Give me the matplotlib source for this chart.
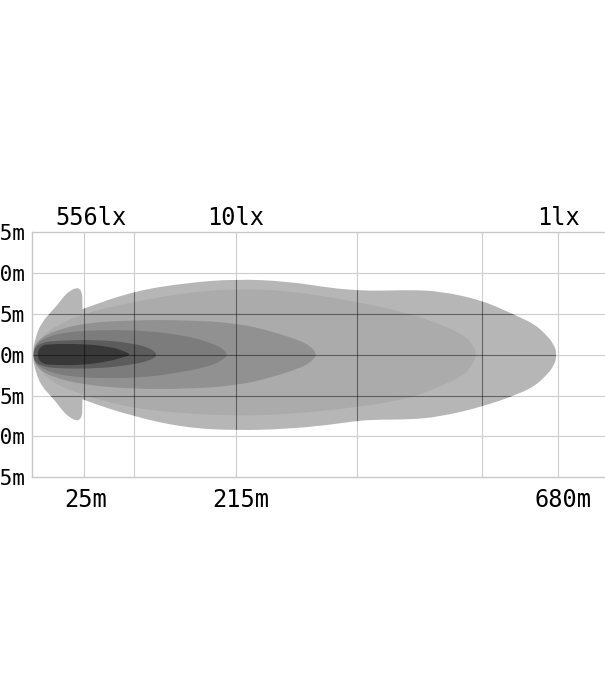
import matplotlib
matplotlib.use("Agg")
import matplotlib.pyplot as plt
from matplotlib.path import Path
from matplotlib.patches import PathPatch

# axis / grid layout (x in chart units, y in metres)
grid_x = [5.2, 10.2, 20.4, 32.5, 45.0, 52.6]
grid_y = [-10, -5, 0, 5, 10]
y_ticks = [-15, -10, -5, 0, 5, 10, 15]
y_labels = ["15m", "10m", "5m", "0m", "5m", "10m", "15m"]
dist_pos = [5.4, 20.9, 53.1]
dist_labels = ["25m", "215m", "680m"]
lux_pos = [5.9, 20.4, 52.6]
lux_labels = ["556lx", "10lx", "1lx"]

# outer beam (1 lx)
body_x = [0.1, 0.8, 2.3, 5.2, 10.2, 15.3, 20.4, 25.6, 29.8, 32.5, 34.8, 37.8, 40.8, 45.0, 48.8, 50.3, 51.3, 52.2, 52.5]
body_hi = [0, 2.4, 4.3, 5.7, 7.8, 8.8, 9.3, 9.0, 8.2, 7.9, 7.85, 7.95, 7.8, 6.7, 4.6, 3.7, 2.6, 1.3, 0]
body_lo = [0, -2.4, -4.1, -5.6, -7.6, -8.95, -9.3, -9.1, -8.6, -8.1, -7.95, -7.95, -7.6, -6.4, -4.75, -3.8, -2.7, -1.4, 0]

# near-field wing
wing_x = [0, 0.4, 1.0, 1.9, 2.6, 3.2, 3.8, 4.4, 4.8, 5.0, 5.05]
wing_hi = [0, 2.4, 4.0, 5.25, 6.2, 7.2, 7.85, 8.2, 8.1, 7.5, 6.8]
wing_lo = [0, -2.3, -3.9, -5.1, -6.1, -7.1, -7.7, -8.1, -7.95, -7.4, -6.7]

# inner isolux zones
l2_x = [0.1, 0.8, 2.3, 5.2, 10.2, 15.3, 20.4, 25.8, 32.5, 37.7, 41.1, 43.0, 43.9, 44.55]
l2_hi = [0, 2.0, 3.5, 5.1, 6.5, 7.6, 8.1, 7.85, 6.5, 5.1, 3.6, 2.5, 1.6, 0]
l2_lo = [0, -2.0, -3.6, -5.0, -6.6, -7.2, -7.5, -7.3, -6.45, -5.4, -3.75, -2.65, -1.5, 0]

l3_x = [0.1, 0.4, 1.9, 5.2, 10.1, 15.3, 20.4, 23.9, 26.65, 27.8, 28.55]
l3_hi = [0, 1.6, 2.8, 3.9, 4.25, 4.25, 3.9, 2.9, 1.8, 1.1, 0]
l3_lo = [0, -1.5, -2.7, -3.7, -4.2, -4.2, -3.8, -2.8, -1.7, -1.0, 0]

l4_x = [0.1, 0.4, 3.2, 10.1, 15.3, 18.0, 19.0, 19.6]
l4_hi = [0, 1.6, 2.9, 3.1, 2.4, 1.4, 0.8, 0]
l4_lo = [0, -1.4, -2.75, -2.95, -2.1, -1.3, -0.7, 0]

l5_x = [0.1, 0.3, 1.0, 2.55, 6.7, 10.1, 11.85, 12.6]
l5_hi = [0, 0.9, 1.5, 1.75, 1.85, 1.4, 0.8, 0]
l5_lo = [0, -0.9, -1.4, -1.7, -1.7, -1.2, -0.7, 0]

l6_x = [0.55, 0.65, 1.0, 1.5, 4.96, 7.7, 9.0, 9.95]
l6_hi = [0, 0.6, 1.1, 1.3, 1.35, 1.0, 0.55, 0]
l6_lo = [0, -0.6, -1.0, -1.25, -1.3, -0.8, -0.35, 0]


def outline(x, hi, lo):
    # closed smooth outline: the read points act as quadratic control points
    pts = list(zip(x, hi))
    low = list(zip(x, lo))[::-1]
    if low[0] == pts[-1]:
        low = low[1:]
    if low[-1] == pts[0]:
        low = low[:-1]
    pts = pts + low
    n = len(pts)
    mid = lambda a, b: ((a[0] + b[0]) / 2, (a[1] + b[1]) / 2)
    verts = [mid(pts[-1], pts[0])]
    codes = [Path.MOVETO]
    for i in range(n):
        verts += [pts[i], mid(pts[i], pts[(i + 1) % n])]
        codes += [Path.CURVE3, Path.CURVE3]
    verts.append(verts[0])
    codes.append(Path.CLOSEPOLY)
    return Path(verts, codes)


def zone(ax, x, hi, lo, color, z):
    patch = PathPatch(outline(x, hi, lo), facecolor=color, edgecolor="none", zorder=z)
    ax.add_patch(patch)
    return patch


fig = plt.figure(figsize=(6.05, 7.0), dpi=100)
ax = fig.add_axes([32 / 605, 223 / 700, 600 / 605, 244.5 / 700])
ax.set_xlim(0, 60)
ax.set_ylim(-15, 15)

mono = ["DejaVu Sans Mono"]

# light grid on white paper
for gx in grid_x:
    ax.axvline(gx, color="#cccccc", lw=0.8, zorder=0.5)
for gy in grid_y:
    ax.axhline(gy, color="#cccccc", lw=0.8, zorder=0.5)

body = zone(ax, body_x, body_hi, body_lo, "#b6b6b6", 1)
wing = zone(ax, wing_x, wing_hi, wing_lo, "#b6b6b6", 1)
zone(ax, l2_x, l2_hi, l2_lo, "#ababab", 1.1)
zone(ax, l3_x, l3_hi, l3_lo, "#919191", 1.2)
zone(ax, l4_x, l4_hi, l4_lo, "#7c7c7c", 1.3)
zone(ax, l5_x, l5_hi, l5_lo, "#5c5c5c", 1.4)
zone(ax, l6_x, l6_hi, l6_lo, "#383838", 1.5)

# grid seen through the beam: darker lines clipped to the shapes
for gx in grid_x:
    ln, = ax.plot([gx, gx], [-15, 15], color="black", alpha=0.45, lw=0.8, zorder=3)
    ln.set_clip_path(body)
for gy in grid_y:
    ln, = ax.plot([5.05, 60], [gy, gy], color="black", alpha=0.45, lw=0.8, zorder=3)
    ln.set_clip_path(body)
    ln, = ax.plot([0, 5.05], [gy, gy], color="black", alpha=0.45, lw=0.8, zorder=3)
    ln.set_clip_path(wing)

for side in ["left", "top", "bottom"]:
    ax.spines[side].set_color("#c8c8c8")
    ax.spines[side].set_linewidth(1.0)
ax.spines["right"].set_visible(False)

ax.set_xticks([])
ax.set_yticks(y_ticks)
ax.set_yticklabels(y_labels, family=mono, fontsize=15)
ax.tick_params(axis="y", length=0, pad=5)

for xp, s in zip(lux_pos, lux_labels):
    ax.annotate(s, (xp, 15), xytext=(0, 5.5), textcoords="offset points",
                ha="center", va="baseline", fontsize=17, family=mono)
for xp, s in zip(dist_pos, dist_labels):
    ax.annotate(s, (xp, -15), xytext=(0, -21.5), textcoords="offset points",
                ha="center", va="baseline", fontsize=17, family=mono)

fig.savefig("out.png", dpi=100)
plt.close(fig)
